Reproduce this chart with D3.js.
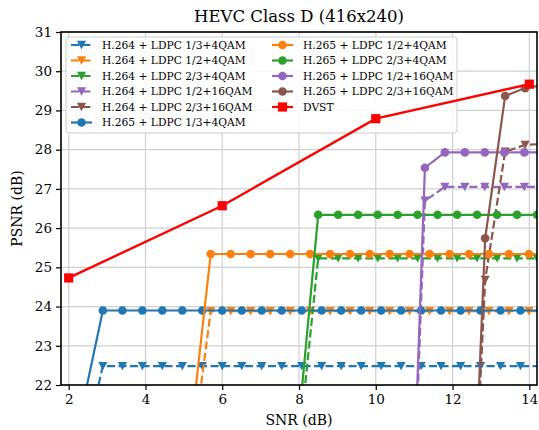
<!DOCTYPE html>
<html>
<head>
<meta charset="utf-8">
<script src="https://cdn.jsdelivr.net/npm/d3@7"></script>
<style>
  body { margin: 0; background: #fff; }
  svg { display: block; font-family: "DejaVu Serif", serif; }
</style>
</head>
<body>
<main></main>
<script>
'use strict';

// SNR grids (each codec curve was sampled on its own grid)
const snrA = [2.37, 2.89, 3.40, 3.92, 4.44, 4.96, 5.48, 6.00, 6.51, 7.03, 7.55, 8.07, 8.59, 9.10, 9.62, 10.14, 10.66, 11.18, 11.70, 12.21, 12.73, 13.25, 13.77, 14.29];
const snrB = [5.18, 5.70, 6.22, 6.74, 7.25, 7.77, 8.29, 8.81, 9.33, 9.84, 10.36, 10.88, 11.40, 11.92, 12.43, 12.95, 13.47, 13.99, 14.51];
const snrC = [7.98, 8.50, 9.02, 9.54, 10.05, 10.57, 11.09, 11.61, 12.12, 12.64, 13.16, 13.68, 14.20, 14.72];
const snrD = [10.76, 11.28, 11.80, 12.32, 12.84, 13.35, 13.87, 14.39];
const snrE = [12.33, 12.85, 13.37, 13.89, 14.40];
const snrDvst = [2, 6, 10, 14];

// PSNR values (dB)
const h264_13_4qam = [20.3, 22.48, 22.48, 22.48, 22.48, 22.48, 22.48, 22.48, 22.48, 22.48, 22.48, 22.48, 22.48, 22.48, 22.48, 22.48, 22.48, 22.48, 22.48, 22.48, 22.48, 22.48, 22.48, 22.48];
const h264_12_4qam = [20.0, 23.88, 23.88, 23.88, 23.88, 23.88, 23.88, 23.88, 23.88, 23.88, 23.88, 23.88, 23.88, 23.88, 23.88, 23.88, 23.88, 23.88, 23.88];
const h264_23_4qam = [20.3, 25.23, 25.23, 25.23, 25.23, 25.23, 25.23, 25.23, 25.23, 25.23, 25.23, 25.23, 25.23, 25.23];
const h264_12_16qam = [13.0, 26.70, 27.05, 27.05, 27.05, 27.05, 27.05, 27.05];
const h264_23_16qam = [14.0, 24.68, 27.95, 28.12, 28.15];
const h265_13_4qam = [21.5, 23.90, 23.90, 23.90, 23.90, 23.90, 23.90, 23.90, 23.90, 23.90, 23.90, 23.90, 23.90, 23.90, 23.90, 23.90, 23.90, 23.90, 23.90, 23.90, 23.90, 23.90, 23.90, 23.90];
const h265_12_4qam = [20.8, 25.34, 25.34, 25.34, 25.34, 25.34, 25.34, 25.34, 25.34, 25.34, 25.34, 25.34, 25.34, 25.34, 25.34, 25.34, 25.34, 25.34, 25.34];
const h265_23_4qam = [20.9, 26.34, 26.34, 26.34, 26.34, 26.34, 26.34, 26.34, 26.34, 26.34, 26.34, 26.34, 26.34, 26.34];
const h265_12_16qam = [13.0, 27.54, 27.93, 27.93, 27.93, 27.93, 27.93, 27.93];
const h265_23_16qam = [13.5, 25.74, 29.37, 29.57, 29.65];
const dvst = [24.73, 26.57, 28.79, 29.67];

const xTicks = [2, 4, 6, 8, 10, 12, 14];
const yTicks = [22, 23, 24, 25, 26, 27, 28, 29, 30, 31];

const series = [
  {name: 'H.264 + LDPC 1/3+4QAM', x: snrA, y: h264_13_4qam, color: '#1f77b4', marker: 'v', dash: true},
  {name: 'H.264 + LDPC 1/2+4QAM', x: snrB, y: h264_12_4qam, color: '#ff7f0e', marker: 'v', dash: true},
  {name: 'H.264 + LDPC 2/3+4QAM', x: snrC, y: h264_23_4qam, color: '#2ca02c', marker: 'v', dash: true},
  {name: 'H.264 + LDPC 1/2+16QAM', x: snrD, y: h264_12_16qam, color: '#9467bd', marker: 'v', dash: true},
  {name: 'H.264 + LDPC 2/3+16QAM', x: snrE, y: h264_23_16qam, color: '#8c564b', marker: 'v', dash: true},
  {name: 'H.265 + LDPC 1/3+4QAM', x: snrA, y: h265_13_4qam, color: '#1f77b4', marker: 'o', dash: false},
  {name: 'H.265 + LDPC 1/2+4QAM', x: snrB, y: h265_12_4qam, color: '#ff7f0e', marker: 'o', dash: false},
  {name: 'H.265 + LDPC 2/3+4QAM', x: snrC, y: h265_23_4qam, color: '#2ca02c', marker: 'o', dash: false},
  {name: 'H.265 + LDPC 1/2+16QAM', x: snrD, y: h265_12_16qam, color: '#9467bd', marker: 'o', dash: false},
  {name: 'H.265 + LDPC 2/3+16QAM', x: snrE, y: h265_23_16qam, color: '#8c564b', marker: 'o', dash: false},
  {name: 'DVST', x: snrDvst, y: dvst, color: '#ff0000', marker: 's', dash: false}
];

const W = 539, H = 430;
const margin = {top: 32, right: 2, bottom: 45, left: 61};
const width = W - margin.left - margin.right,
  height = H - margin.top - margin.bottom;

const svg = d3.select('main')
  .append('svg')
  .attr('width', W)
  .attr('height', H);

const x = d3.scaleLinear().domain([1.8, 14.2]).range([0, width]);
const y = d3.scaleLinear().domain([22, 31]).range([height, 0]);

const g = svg.append('g')
  .attr('transform', 'translate(' + margin.left + ',' + margin.top + ')');

svg.append('defs').append('clipPath')
  .attr('id', 'clip')
  .append('rect')
  .attr('width', width)
  .attr('height', height);

// grid
g.append('g')
  .selectAll('line')
  .data(xTicks)
  .enter()
  .append('line')
  .attr('x1', d => x(d)).attr('x2', d => x(d))
  .attr('y1', 0).attr('y2', height)
  .attr('stroke', '#d0d0d0').attr('stroke-width', 1.2);

g.append('g')
  .selectAll('line')
  .data(yTicks)
  .enter()
  .append('line')
  .attr('y1', d => y(d)).attr('y2', d => y(d))
  .attr('x1', 0).attr('x2', width)
  .attr('stroke', '#d0d0d0').attr('stroke-width', 1.2);

// marker drawing
const drawMarker = (sel, s) => {
  if (s.marker === 'o') {
    sel.append('circle').attr('r', 4.3).attr('fill', s.color);
  } else if (s.marker === 'v') {
    sel.append('path').attr('d', 'M-4.6,-4.2L4.6,-4.2L0,4.2Z').attr('fill', s.color);
  } else {
    sel.append('rect').attr('x', -4.6).attr('y', -4.6).attr('width', 9.2).attr('height', 9.2).attr('fill', s.color);
  }
};

const line = d3.line().x(d => x(d[0])).y(d => y(d[1]));

const drawSeries = (s, parent) => {
  const pts = s.x.map((v, i) => [v, s.y[i]]);
  const sg = parent.append('g');
  sg.append('path')
    .datum(pts)
    .attr('d', line)
    .attr('fill', 'none')
    .attr('stroke', s.color)
    .attr('stroke-width', s.name === 'DVST' ? 2.4 : 2.2)
    .attr('stroke-dasharray', s.dash ? '8,3.5' : null);
  sg.selectAll('g.m')
    .data(pts)
    .enter()
    .append('g')
    .attr('class', 'm')
    .attr('transform', d => 'translate(' + x(d[0]) + ',' + y(d[1]) + ')')
    .each(function () { drawMarker(d3.select(this), s); });
};

const plot = g.append('g').attr('clip-path', 'url(#clip)');
series.filter(s => s.name !== 'DVST').forEach(s => drawSeries(s, plot));

// legend
const legend = g.append('g').attr('transform', 'translate(5,5)');
legend.append('rect')
  .attr('width', 391)
  .attr('height', 96)
  .attr('rx', 3)
  .attr('fill', 'rgba(255,255,255,0.85)')
  .attr('stroke', '#cccccc')
  .attr('stroke-width', 1);

series.forEach((s, i) => {
  const col = i < 6 ? 0 : 1;
  const row = i < 6 ? i : i - 6;
  const item = legend.append('g')
    .attr('transform', 'translate(' + (5 + col * 201) + ',' + (8 + row * 15.5) + ')');
  item.append('line')
    .attr('x1', 0).attr('x2', 21)
    .attr('stroke', s.color)
    .attr('stroke-width', 2.2)
    .attr('stroke-dasharray', s.dash ? '8,3.5' : null);
  drawMarker(item.append('g').attr('transform', 'translate(10.5,0)'), s);
  item.append('text')
    .attr('x', 31)
    .attr('y', 0)
    .attr('dy', '0.35em')
    .style('font-size', '10.7px')
    .text(s.name);
});

// DVST drawn above the legend
const plotTop = g.append('g').attr('clip-path', 'url(#clip)');
drawSeries(series[series.length - 1], plotTop);

// frame
g.append('rect')
  .attr('width', width)
  .attr('height', height)
  .attr('fill', 'none')
  .attr('stroke', '#000')
  .attr('stroke-width', 1.6);

// axes
const xAxis = d3.axisBottom(x).tickValues(xTicks).tickSize(5).tickPadding(4).tickFormat(d3.format('d'));
const yAxis = d3.axisLeft(y).tickValues(yTicks).tickSize(5).tickPadding(4).tickFormat(d3.format('d'));

const gx = g.append('g').attr('transform', 'translate(0,' + height + ')').call(xAxis);
const gy = g.append('g').call(yAxis);
[gx, gy].forEach(a => {
  a.select('.domain').remove();
  a.selectAll('line').attr('stroke', '#000').attr('stroke-width', 1.2);
  a.selectAll('text').style('font-family', '"DejaVu Serif", serif').style('font-size', '13.5px').attr('fill', '#000');
});

// labels
svg.append('text')
  .attr('x', margin.left + width / 2)
  .attr('y', 22)
  .attr('text-anchor', 'middle')
  .style('font-size', '16.5px')
  .text('HEVC Class D (416x240)');

svg.append('text')
  .attr('x', margin.left + width / 2)
  .attr('y', 425)
  .attr('text-anchor', 'middle')
  .style('font-size', '14px')
  .text('SNR (dB)');

svg.append('text')
  .attr('transform', 'translate(22,' + (margin.top + height / 2) + ') rotate(-90)')
  .attr('text-anchor', 'middle')
  .style('font-size', '14px')
  .text('PSNR (dB)');
</script>
</body>
</html>
